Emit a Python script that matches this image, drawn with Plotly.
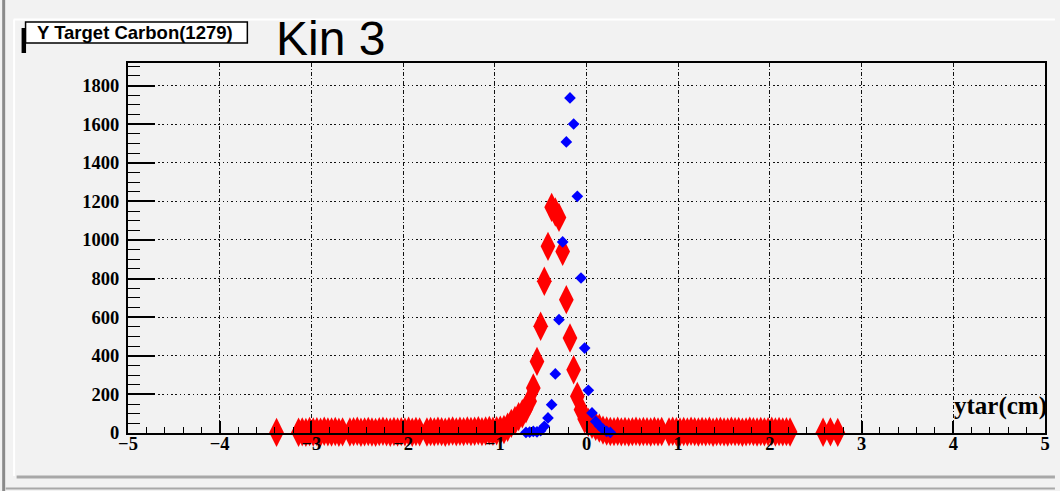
import plotly.graph_objects as go

# ---------------- data ----------------
# Red series: bin centres (cm) and counts
red_x = [
    -3.38,
    -3.14, -3.10, -3.06, -3.02, -2.98, -2.94, -2.90, -2.86, -2.82, -2.78, -2.74, -2.70, -2.66,
    -2.58, -2.54, -2.50, -2.46, -2.42, -2.38, -2.34, -2.30, -2.26, -2.22, -2.18, -2.14, -2.10,
    -2.06, -2.02, -1.98, -1.94, -1.90, -1.86, -1.82,
    -1.74, -1.70, -1.66, -1.62, -1.58, -1.54, -1.50, -1.46, -1.42, -1.38, -1.34, -1.30, -1.26,
    -1.22, -1.18, -1.14, -1.10, -1.06, -1.02, -0.98, -0.94, -0.90,
    -0.86, -0.82, -0.78, -0.74, -0.70, -0.66, -0.62, -0.58, -0.54, -0.50, -0.46, -0.42,
    -0.38, -0.34, -0.30, -0.26, -0.22, -0.18, -0.14, -0.10, -0.06, -0.02,
    0.02, 0.06, 0.10, 0.14, 0.18,
    0.22, 0.26, 0.30, 0.34, 0.38, 0.42, 0.46, 0.50, 0.54, 0.58, 0.62, 0.66, 0.70, 0.74, 0.78, 0.82,
    0.90, 0.94, 0.98, 1.02, 1.06, 1.10, 1.14, 1.18, 1.22, 1.26, 1.30, 1.34, 1.38, 1.42, 1.46,
    1.50, 1.54, 1.58, 1.62, 1.66, 1.70, 1.74, 1.78, 1.82, 1.86, 1.90, 1.94, 1.98, 2.02, 2.06,
    2.10, 2.14, 2.18, 2.22,
    2.58, 2.66, 2.74,
]
red_y = [
    3,
    4, 6, 3, 8, 5, 7, 4, 9, 6, 5, 8, 4, 6,
    5, 7, 9, 4, 6, 8, 5, 3, 7, 9, 6, 4, 8,
    5, 7, 6, 9, 4, 8, 6,
    5, 8, 6, 9, 7, 4, 8, 10, 6, 9, 7, 11, 8,
    9, 12, 7, 10, 13, 9, 12, 15, 18,
    30, 50, 65, 85, 100, 125, 165, 233, 371, 553, 786, 967,
    1169, 1145, 1117, 941, 691, 492, 328, 190, 121, 72,
    55, 45, 35, 25, 15,
    10, 8, 7, 9, 6, 8, 5, 7, 9, 6, 8, 7, 5, 9, 6, 8,
    6, 9, 7, 5, 8, 6, 9, 7, 5, 8, 6, 9, 4, 7, 8,
    6, 5, 9, 7, 8, 4, 6, 9, 7, 5, 8, 6, 7, 9, 5,
    8, 6, 7, 5,
    4, 6, 3,
]

# Blue series: bin centres (cm) and counts
blue_x = [-0.66, -0.62, -0.58, -0.54, -0.50, -0.46, -0.42, -0.38, -0.34, -0.30,
          -0.26, -0.22, -0.18, -0.14, -0.10, -0.06, -0.02, 0.02, 0.06, 0.10,
          0.14, 0.18, 0.22, 0.26]
blue_y = [3, 5, 8, 6, 12, 35, 78, 147, 306, 587,
          990, 1508, 1736, 1601, 1226, 803, 440, 221, 104, 60,
          38, 20, 8, 3]

x_range = [-5, 5]
y_range = [0, 1917]
title_text = "Y Target Carbon(1279)"
kin_text = "Kin 3"
x_title = "ytar(cm)"

# ---------------- figure ----------------
W_FIG, H_FIG = 1060, 491
L, R, T, B = 128, 10, 63, 58
PW = W_FIG - L - R
PH = H_FIG - T - B


def fx(p):
    return (p - L) / PW


def fy(p):
    return (H_FIG - B - p) / PH


fig = go.Figure()
fig.add_trace(go.Scatter(
    x=red_x, y=red_y, mode="markers",
    marker=dict(symbol="diamond-tall", size=21, color="#ff0000", line=dict(width=0)),
    cliponaxis=False, showlegend=False, hoverinfo="skip",
))
fig.add_trace(go.Scatter(
    x=blue_x, y=blue_y, mode="markers",
    marker=dict(symbol="diamond", size=9, color="#0000ff", line=dict(width=0)),
    cliponaxis=False, showlegend=False, hoverinfo="skip",
))

tickfont = dict(family="Liberation Serif", size=18.5, color="black", weight="bold")

fig.update_xaxes(
    range=x_range, tick0=-5, dtick=1, ticks="inside", ticklen=12, tickwidth=1.5,
    tickcolor="black", showline=True, linewidth=2, linecolor="black", mirror=True,
    showgrid=True, gridcolor="#111111", gridwidth=1, griddash="4px,2px,1px,2px",
    zeroline=False, tickfont=tickfont, ticklabelstandoff=-7,
    minor=dict(ticks="inside", ticklen=6, dtick=0.2, tickwidth=1.2, tickcolor="black", showgrid=False),
)
fig.update_yaxes(
    range=y_range, tick0=0, dtick=200, ticks="inside", ticklen=27, tickwidth=1.5,
    tickcolor="black", showline=True, linewidth=2, linecolor="black", mirror=True,
    showgrid=True, gridcolor="#111111", gridwidth=1, griddash="1.5px,2.8px",
    zeroline=False, tickfont=tickfont, ticklabelstandoff=3,
    minor=dict(ticks="inside", ticklen=12, dtick=50, tickwidth=1.2, tickcolor="black", showgrid=False),
)

shapes = [
    # outer canvas bevel
    dict(type="rect", xref="paper", yref="paper", x0=fx(1.5), x1=fx(4.5), y0=fy(491), y1=fy(0),
         fillcolor="#8a8a8a", line=dict(width=0), layer="below"),
    dict(type="line", xref="paper", yref="paper", x0=fx(13), x1=fx(1060), y0=fy(19.5), y1=fy(19.5),
         line=dict(color="white", width=2), layer="below"),
    dict(type="line", xref="paper", yref="paper", x0=fx(13.5), x1=fx(13.5), y0=fy(19.5), y1=fy(476),
         line=dict(color="white", width=2), layer="below"),
    dict(type="line", xref="paper", yref="paper", x0=fx(16), x1=fx(1060), y0=fy(477), y1=fy(477),
         line=dict(color="#a8a8a8", width=3), layer="below"),
    dict(type="line", xref="paper", yref="paper", x0=fx(5), x1=fx(1060), y0=fy(488.5), y1=fy(488.5),
         line=dict(color="#a8a8a8", width=2), layer="below"),
    # title pave
    dict(type="rect", xref="paper", yref="paper", x0=fx(21), x1=fx(25.5), y0=fy(53), y1=fy(28),
         fillcolor="black", line=dict(width=0)),
    dict(type="rect", xref="paper", yref="paper", x0=fx(25), x1=fx(248), y0=fy(43), y1=fy(22),
         fillcolor="white", line=dict(color="black", width=1.5)),
]

annotations = [
    dict(text=title_text, xref="paper", yref="paper", x=fx(135), y=fy(32.5),
         xanchor="center", yanchor="middle", showarrow=False,
         font=dict(family="Liberation Sans", size=18.5, color="black", weight="bold")),
    dict(text=kin_text, xref="paper", yref="paper", x=fx(275), y=fy(38),
         xanchor="left", yanchor="middle", showarrow=False,
         font=dict(family="Liberation Sans", size=48, color="black")),
    dict(text=x_title, xref="paper", yref="paper", x=fx(1054), y=fy(422),
         xanchor="right", yanchor="bottom", showarrow=False,
         font=dict(family="Liberation Serif", size=25, color="black", weight="bold")),
]

fig.update_layout(
    width=W_FIG, height=H_FIG,
    margin=dict(l=L, r=R, t=T, b=B, pad=0),
    paper_bgcolor="#f2f2f2", plot_bgcolor="#f2f2f2",
    shapes=shapes, annotations=annotations,
    showlegend=False, hovermode=False,
)

fig.write_html(
    "out.html",
    config={"displayModeBar": False},
    post_script="document.body.style.margin='0px';document.body.style.overflow='hidden';",
)
